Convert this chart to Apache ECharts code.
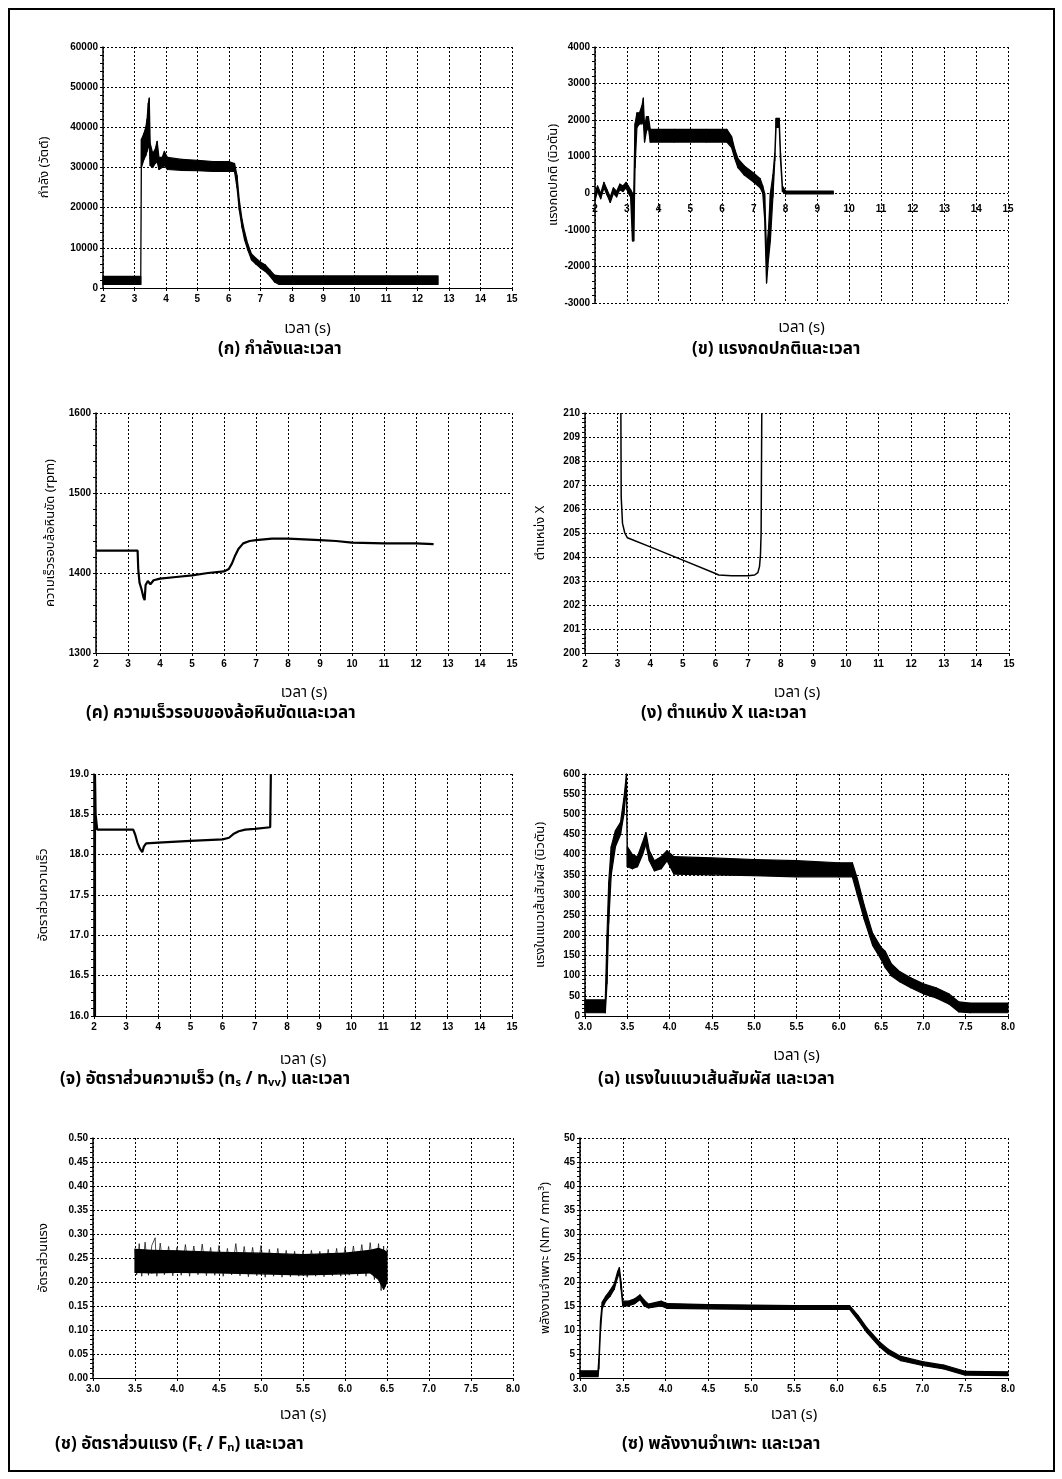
<!DOCTYPE html>
<html>
<head>
<meta charset="utf-8">
<script src="https://cdn.jsdelivr.net/npm/echarts@6/dist/echarts.min.js"></script>
<style>
html, body { margin: 0; padding: 0; background: #fff; }
#chart { width: 1062px; height: 1479px; }
#frame { position: absolute; left: 8px; top: 8px; width: 1043px; height: 1460px; border: 2px solid #000; pointer-events: none; }
</style>
</head>
<body>
<div id="chart"></div>
<div id="frame"></div>
<script>
// (ก) power [t, low, high]
var powerBand = [
    [2.00, 900, 2900], [3.20, 900, 2900], [3.22, 30000, 37000], [3.30, 32000, 38500],
    [3.36, 33000, 40000], [3.40, 34000, 42000], [3.44, 35000, 46000], [3.47, 36000, 47300],
    [3.50, 30500, 36000], [3.58, 30000, 33500], [3.66, 31000, 34500], [3.72, 31500, 36500],
    [3.78, 29500, 32500], [3.88, 30000, 32500], [3.95, 30500, 34000], [4.05, 29500, 32500],
    [4.50, 29300, 32000], [5.00, 29200, 31800], [5.50, 29000, 31500], [6.00, 29000, 31500],
    [6.18, 29000, 31000], [6.26, 25000, 28000], [6.33, 19500, 22000], [6.42, 15000, 17000],
    [6.50, 12000, 14000], [6.60, 9500, 11000], [6.72, 7000, 8500], [6.85, 6000, 7500],
    [7.00, 5000, 6500], [7.15, 4200, 5800], [7.30, 3000, 4500], [7.45, 1500, 3200],
    [7.60, 900, 3000], [12.65, 900, 3000]
];
// (ข) normal force [t, low, high]
var normalBand = [
    [2.00, -200, 0], [2.08, 50, 200], [2.18, -150, 0], [2.28, 150, 300], [2.38, -50, 100],
    [2.48, -250, -100], [2.58, 0, 150], [2.68, -100, 50], [2.78, 100, 250], [2.88, 50, 200],
    [2.98, 150, 300], [3.05, 0, 200], [3.12, -100, 100], [3.18, -1300, 0], [3.22, -1300, 0],
    [3.26, 700, 1900], [3.32, 1800, 2200], [3.40, 1900, 2200], [3.48, 1900, 2400],
    [3.52, 2000, 2600], [3.56, 1400, 1800], [3.62, 1700, 2100], [3.68, 1800, 2100],
    [3.74, 1400, 1750], [4.50, 1400, 1750], [5.50, 1400, 1750], [6.15, 1400, 1750],
    [6.30, 1250, 1550], [6.40, 950, 1200], [6.50, 700, 950], [6.70, 500, 750],
    [7.00, 300, 550], [7.20, 150, 400], [7.28, 0, 200], [7.34, -700, 0],
    [7.40, -2450, -1600], [7.46, -1800, -1000], [7.52, -1300, 0], [7.60, -100, 500],
    [7.66, 900, 1100], [7.70, 1800, 2050], [7.80, 1800, 2050], [7.84, 900, 1100],
    [7.90, 50, 200], [8.00, -20, 60], [9.50, -20, 60]
];
// (ค) wheel speed [t, rpm]
var wheelSpeed = [
    [2.00, 1428], [3.30, 1428], [3.32, 1405], [3.36, 1388], [3.42, 1380], [3.48, 1370],
    [3.52, 1366], [3.55, 1385], [3.62, 1390], [3.70, 1386], [3.80, 1391], [4.00, 1393],
    [4.50, 1395], [5.00, 1397], [5.50, 1400], [6.00, 1402], [6.15, 1405], [6.25, 1412],
    [6.35, 1422], [6.45, 1430], [6.60, 1437], [6.80, 1440], [7.00, 1441], [7.50, 1443],
    [8.00, 1443], [8.50, 1442], [9.00, 1441], [9.50, 1440], [10.00, 1438], [11.00, 1437],
    [12.00, 1437], [12.55, 1436]
];
// (ง) position X [t, x]
var positionX = [
    [3.10, 210], [3.11, 206.5], [3.15, 205.4], [3.22, 205.0], [3.30, 204.8], [4.00, 204.42],
    [5.00, 203.87], [6.00, 203.31], [6.10, 203.25], [6.50, 203.22], [7.00, 203.22],
    [7.20, 203.25], [7.30, 203.35], [7.35, 203.6], [7.38, 204.1], [7.40, 205.0], [7.42, 210]
];
// (จ) speed ratio [t, ratio]
var speedRatio = [
    [2.03, 16.0], [2.03, 19.0], [2.05, 18.5], [2.09, 18.5], [2.10, 18.31], [3.22, 18.31],
    [3.28, 18.25], [3.35, 18.15], [3.42, 18.08], [3.50, 18.03], [3.55, 18.10], [3.62, 18.14],
    [4.00, 18.15], [5.00, 18.17], [6.00, 18.19], [6.20, 18.21], [6.35, 18.26], [6.50, 18.29],
    [6.70, 18.31], [7.00, 18.32], [7.48, 18.34], [7.50, 19.0]
];
// (ฉ) tangential force [t, low, high]
var tangentBand = [
    [3.00, 8, 40], [3.24, 8, 40], [3.26, 80, 200], [3.28, 230, 330], [3.31, 350, 420],
    [3.36, 420, 460], [3.42, 450, 480], [3.46, 500, 540], [3.49, 570, 600], [3.50, 370, 420],
    [3.56, 365, 400], [3.62, 370, 395], [3.68, 400, 430], [3.72, 425, 455], [3.76, 385, 410],
    [3.82, 360, 385], [3.90, 365, 395], [3.97, 385, 410], [4.05, 352, 395], [4.50, 350, 392],
    [5.00, 348, 388], [5.50, 345, 385], [6.00, 345, 380], [6.16, 345, 380], [6.22, 300, 340],
    [6.30, 240, 275], [6.40, 175, 205], [6.50, 140, 170], [6.55, 120, 160], [6.62, 100, 130],
    [6.72, 85, 110], [6.85, 70, 95], [7.00, 55, 80], [7.15, 45, 70], [7.30, 30, 55],
    [7.42, 10, 35], [7.55, 8, 32], [8.00, 8, 32]
];
// (ช) force ratio band [t, low, high] and spikes [t, v]
var ratioBand = [
    [3.50, 0.220, 0.268], [3.70, 0.219, 0.266], [4.00, 0.220, 0.265], [4.50, 0.219, 0.262],
    [5.00, 0.217, 0.260], [5.50, 0.215, 0.257], [6.00, 0.217, 0.260], [6.30, 0.219, 0.266],
    [6.40, 0.205, 0.270], [6.46, 0.185, 0.266], [6.50, 0.200, 0.262]
];
var ratioSpikes = [
    [3.50, 0.270], [3.52, 0.215], [3.55, 0.280], [3.58, 0.212], [3.62, 0.283], [3.66, 0.214],
    [3.70, 0.276], [3.74, 0.292], [3.76, 0.212], [3.80, 0.281], [3.85, 0.215], [3.90, 0.274],
    [3.95, 0.213], [4.00, 0.272], [4.05, 0.214], [4.10, 0.278], [4.15, 0.212], [4.20, 0.275],
    [4.25, 0.215], [4.30, 0.279], [4.35, 0.213], [4.40, 0.272], [4.45, 0.214], [4.50, 0.276],
    [4.55, 0.212], [4.60, 0.270], [4.65, 0.215], [4.70, 0.280], [4.75, 0.213], [4.80, 0.274],
    [4.85, 0.211], [4.90, 0.272], [4.95, 0.213], [5.00, 0.276], [5.05, 0.210], [5.10, 0.268],
    [5.15, 0.212], [5.20, 0.270], [5.25, 0.210], [5.30, 0.266], [5.35, 0.211], [5.40, 0.264],
    [5.45, 0.212], [5.50, 0.265], [5.55, 0.210], [5.60, 0.266], [5.65, 0.212], [5.70, 0.264],
    [5.75, 0.211], [5.80, 0.268], [5.85, 0.213], [5.90, 0.270], [5.95, 0.212], [6.00, 0.272],
    [6.05, 0.214], [6.10, 0.275], [6.15, 0.213], [6.20, 0.278], [6.25, 0.212], [6.30, 0.282],
    [6.35, 0.205], [6.40, 0.280], [6.43, 0.182], [6.46, 0.275], [6.48, 0.190], [6.50, 0.270]
];
// (ซ) specific energy [t, low, high]
var energyBand = [
    [3.00, 0.3, 1.5], [3.21, 0.3, 1.5], [3.22, 2, 4], [3.24, 10, 12], [3.26, 14.5, 15.8],
    [3.30, 16, 17], [3.35, 17, 18.2], [3.40, 18.5, 19.6], [3.44, 21, 22.2], [3.46, 22, 23],
    [3.48, 18.5, 20], [3.50, 15, 16], [3.56, 15, 16], [3.64, 15.5, 16.5], [3.70, 16.3, 17.3],
    [3.75, 15, 16.2], [3.80, 14.6, 15.4], [3.95, 15, 16], [4.02, 14.5, 15.5], [4.50, 14.4, 15.3],
    [5.00, 14.3, 15.2], [5.50, 14.3, 15.1], [6.00, 14.3, 15.1], [6.15, 14.3, 15.1],
    [6.25, 12, 13], [6.35, 9.5, 10.5], [6.50, 6.5, 7.5], [6.60, 5, 6], [6.75, 3.6, 4.5],
    [7.00, 2.6, 3.4], [7.25, 1.9, 2.7], [7.50, 0.6, 1.4], [8.00, 0.5, 1.3]
];

var xName = 'เวลา (s)';
var yNames = ['กำลัง (วัตต์)', 'แรงกดปกติ (นิวตัน)', 'ความเร็วรอบล้อหินขัด (rpm)', 'ตำแหน่ง X',
    'อัตราส่วนความเร็ว', 'แรงในแนวเส้นสัมผัส (นิวตัน)', 'อัตราส่วนแรง', 'พลังงานจำเพาะ (Nm / mm³)'];
var captions = ['(ก) กำลังและเวลา', '(ข) แรงกดปกติและเวลา', '(ค) ความเร็วรอบของล้อหินขัดและเวลา',
    '(ง) ตำแหน่ง X และเวลา', '(จ) อัตราส่วนความเร็ว (nₛ / nᵥᵥ) และเวลา', '(ฉ) แรงในแนวเส้นสัมผัส และเวลา',
    '(ช) อัตราส่วนแรง (Fₜ / Fₙ) และเวลา', '(ซ) พลังงานจำเพาะ และเวลา'];

var THAI = '"Noto Sans Thai", "Noto Sans", "DejaVu Sans", sans-serif';

// layout of the eight panels: grid box, x range, y range, label decimals, gaps
var layout = [
    { box: [103, 47, 409, 241], x: [2, 15, 1, 0], y: [0, 60000, 10000, 0], yGap: 51, xGap: 34, cap: [218, 354] },
    { box: [595, 47, 413, 256], x: [2, 15, 1, 0], y: [-3000, 4000, 1000, 0], yGap: 34, xGap: 18, cap: [692, 354], labelInside: -99 },
    { box: [96, 413, 416, 240], x: [2, 15, 1, 0], y: [1300, 1600, 100, 0], yGap: 38, xGap: 33, cap: [86, 718] },
    { box: [585, 413, 424, 240], x: [2, 15, 1, 0], y: [200, 210, 1, 0], yGap: 37, xGap: 33, cap: [641, 718] },
    { box: [94, 774, 418, 242], x: [2, 15, 1, 0], y: [16, 19, 0.5, 1], yGap: 43, xGap: 37, cap: [60, 1084] },
    { box: [585, 774, 423, 242], x: [3, 8, 0.5, 1], y: [0, 600, 50, 0], yGap: 37, xGap: 33, cap: [598, 1084] },
    { box: [93, 1138, 420, 240], x: [3, 8, 0.5, 1], y: [0, 0.5, 0.05, 2], yGap: 42, xGap: 30, cap: [55, 1449] },
    { box: [580, 1138, 428, 240], x: [3, 8, 0.5, 1], y: [0, 50, 5, 0], yGap: 27, xGap: 30, cap: [622, 1449] }
];

var gridLine = { show: true, lineStyle: { color: '#000', width: 1, type: [2, 2] } };
var tickLabel = { color: '#000', fontSize: 10, fontWeight: 'bold', fontFamily: 'Liberation Sans' };

var grids = [], xAxes = [], yAxes = [], series = [], texts = [];

layout.forEach(function (p, i) {
    var inside = p.labelInside != null;
    grids.push({ left: p.box[0], top: p.box[1], width: p.box[2], height: p.box[3], containLabel: false });
    xAxes.push({
        type: 'value', gridIndex: i, min: p.x[0], max: p.x[1], interval: p.x[2],
        name: xName, nameLocation: 'middle', nameGap: p.xGap,
        nameTextStyle: { color: '#000', fontSize: 15, fontFamily: THAI },
        axisLine: { show: !inside, onZero: false, lineStyle: { color: '#000', width: 1 } },
        axisTick: { show: !inside, length: 3, lineStyle: { color: '#000' } },
        axisLabel: Object.assign({
            margin: inside ? p.labelInside : 6,
            formatter: function (v) { return v.toFixed(p.x[3]); }
        }, tickLabel),
        splitLine: gridLine
    });
    yAxes.push({
        type: 'value', gridIndex: i, min: p.y[0], max: p.y[1], interval: p.y[2],
        name: yNames[i], nameLocation: 'middle', nameGap: p.yGap,
        nameTextStyle: { color: '#000', fontSize: 13, fontFamily: THAI },
        axisLine: { show: true, lineStyle: { color: '#000', width: 1.5 } },
        axisTick: { show: true, length: 3, lineStyle: { color: '#000' } },
        minorTick: { show: true, splitNumber: 5, length: 3, lineStyle: { color: '#000' } },
        axisLabel: Object.assign({ margin: 5, formatter: function (v) { return v.toFixed(p.y[3]); } }, tickLabel),
        splitLine: gridLine
    });
    texts.push({
        type: 'text', left: p.cap[0], top: p.cap[1] - 12,
        style: { text: captions[i], fill: '#000', font: 'bold 17px ' + THAI }
    });
});

// one filled quad per pair of neighbouring band samples
function renderBand(params, api) {
    var pts = [
        api.coord([api.value(0), api.value(1)]),
        api.coord([api.value(3), api.value(4)]),
        api.coord([api.value(3), api.value(5)]),
        api.coord([api.value(0), api.value(2)])
    ];
    return {
        type: 'polygon',
        shape: { points: pts },
        style: { fill: '#000', stroke: '#000', lineWidth: 1.2, lineJoin: 'round' }
    };
}

function addBand(idx, band) {
    var segs = [];
    for (var k = 0; k < band.length - 1; k++) {
        segs.push(band[k].concat(band[k + 1]));
    }
    series.push({
        type: 'custom', xAxisIndex: idx, yAxisIndex: idx,
        renderItem: renderBand,
        encode: { x: [0, 3], y: [1, 2, 4, 5] },
        data: segs
    });
}

function addLine(idx, pts, width) {
    series.push({
        type: 'line', xAxisIndex: idx, yAxisIndex: idx, symbol: 'none',
        lineStyle: { color: '#000', width: width },
        data: pts
    });
}

addBand(0, powerBand);
addBand(1, normalBand);
addLine(2, wheelSpeed, 2.2);
addLine(3, positionX, 1.5);
addLine(4, speedRatio, 2.2);
addBand(5, tangentBand);
addBand(6, ratioBand);
addLine(6, ratioSpikes, 0.7);
addBand(7, energyBand);

var chart = echarts.init(document.getElementById('chart'));
chart.setOption({
    backgroundColor: '#fff',
    animation: false,
    grid: grids,
    xAxis: xAxes,
    yAxis: yAxes,
    series: series,
    graphic: texts
});
</script>
</body>
</html>
